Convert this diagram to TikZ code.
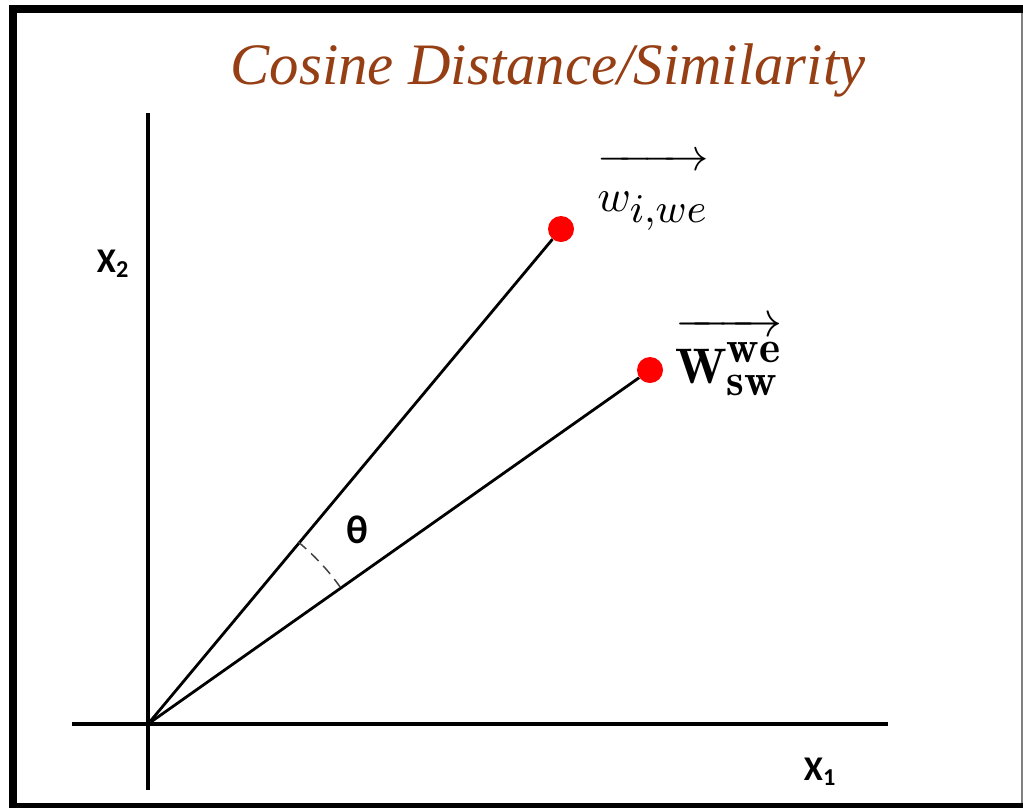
\documentclass[tikz,border=0pt]{standalone}
\usepackage{fontspec}
\usepackage{graphicx}
\DeclareMathSizes{10}{10}{9}{8}
\newfontfamily\titlefont{Liberation Serif}
\newfontfamily\labfont{Carlito}
\definecolor{titlebrown}{RGB}{150,62,20}
\tikzset{
  frame/.style={fill=black,draw=none},
  axis/.style={line width=3pt,black},
  vec/.style={line width=2.1pt,black},
  dot/.style={circle,fill=red,draw=none,minimum size=19.5pt,inner sep=0pt},
  axlab/.style={font=\labfont\bfseries\fontsize{26}{30}\selectfont,inner sep=0pt},
  thetalab/.style={font=\labfont\bfseries\fontsize{30}{34}\selectfont,inner sep=0pt},
  mathlab/.style={inner sep=0pt},
  anglearc/.style={dash pattern=on 8pt off 5pt,line width=1.1pt,black!75}
}
\begin{document}
\begin{tikzpicture}[x=0.75pt,y=-0.75pt]
\useasboundingbox (0,0) rectangle (1023,808);
\fill[white] (0,0) rectangle (1023,808);
% frame
\fill[frame] (9,4.5) rectangle (1023,13);
\fill[frame] (9,4.5) rectangle (17,803);
\fill[frame] (9,802.5) rectangle (1023,808);
\draw[gray,line width=1.1pt] (1022,13) -- (1022,803);
% title
\node[text=titlebrown,inner sep=0pt] (title) at (548,70)
  {\resizebox{476pt}{!}{\titlefont\itshape Cosine Distance/Similarity}};
% axes
\coordinate (O) at (148,724);
\coordinate (ytop) at (148,113);
\coordinate (ybot) at (148,790);
\coordinate (xl) at (72,724);
\coordinate (xr) at (888,724);
\draw[axis] (ybot) -- (ytop);
\draw[axis] (xl) -- (xr);
% points
\node[dot] (p1) at (561,229) {};
\node[dot] (p2) at (650,370) {};
\draw[vec] (O) -- (p1);
\draw[vec] (O) -- (p2);
% angle
\draw[anglearc] ([shift={(-50.5:236)}]O) arc[start angle=-50.5,end angle=-35.5,radius=236];
\node[thetalab] (theta) at (357,530) {θ};
% labels
\node[axlab] (x2) at (113,264) {X\textsubscript{2}};
\node[axlab] (x1) at (820,772) {X\textsubscript{1}};
\node[mathlab] (wlab) at (653,192) {\scalebox{3.4}{$\overrightarrow{\rule{0pt}{10pt}w_{i,we}}$}};
\node[mathlab] (Wlab) at (729,357) {\scalebox{3.75}{$\overrightarrow{\rule{0pt}{10.5pt}\mathbf{W}^{\mathbf{we}}_{\mathbf{sw}}}$}};
\end{tikzpicture}
\end{document}
